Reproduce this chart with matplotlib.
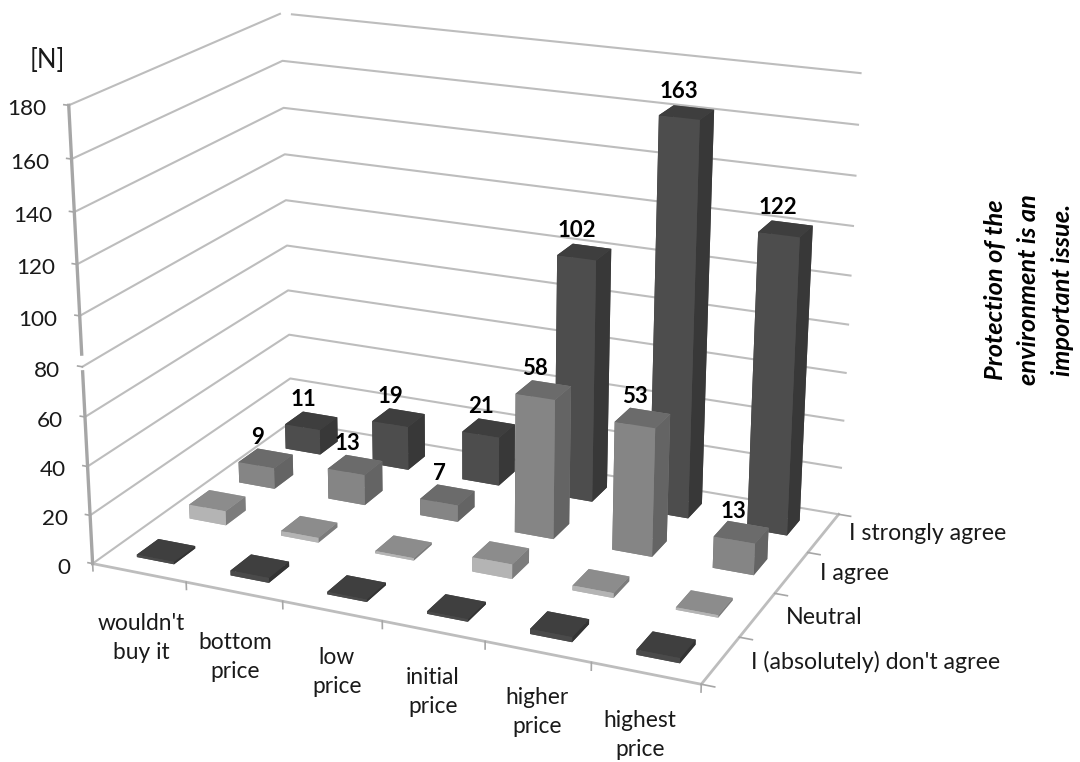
import numpy as np
import matplotlib
matplotlib.use("Agg")
import matplotlib.pyplot as plt
from mpl_toolkits.mplot3d import Axes3D  # noqa

categories = ["wouldn't\nbuy it", "bottom\nprice", "low\nprice", "initial\nprice", "higher\nprice", "highest\nprice"]
series_names = ["I (absolutely) don't agree", "Neutral", "I agree", "I strongly agree"]
dont_agree = [1, 2, 1, 1, 2, 2]
neutral = [6, 2, 1, 6, 2, 1]
agree = [9, 13, 7, 58, 53, 13]
strongly = [11, 19, 21, 102, 163, 122]
y_ticks = list(range(0, 181, 20))
labelled = [None, None, True, True]

W, H = 1080, 762
plt.rcParams['font.family'] = ['Lato', 'DejaVu Sans']
fig = plt.figure(figsize=(W / 100, H / 100), dpi=100)
ax = fig.add_axes([0, -(W - H) / 2 / H, 1, W / H], projection='3d', computed_zorder=False)
ax.set_axis_off()
ax.apply_aspect()

# camera calibration: frame corners (data) <-> picture pixels
calib = [
    ((0, 0, 0), (93, 563)), ((6, 0, 0), (701, 685)), ((6, 4, 0), (838, 513)), ((0, 4, 0), (292, 423)),
    ((0, 0, 180), (70, 105)), ((0, 4, 180), (281, 14)), ((6, 4, 180), (860, 73)),
    ((0, 0, 80), (81, 367)), ((0, 4, 80), (287, 245)), ((6, 4, 80), (849, 325)),
    ((0, 4, 140), (283, 107)), ((6, 4, 140), (856, 176)),
]
S = np.array([6.0, 4.0, 180.0])
rows = []
for d, p in calib:
    X = list(np.array(d) / S) + [1.0]
    u, v = p[0] / 1000, p[1] / 1000
    rows.append(X + [0, 0, 0, 0] + [-u * c for c in X])
    rows.append([0, 0, 0, 0] + X + [-v * c for c in X])
P = np.linalg.svd(np.array(rows))[2][-1].reshape(3, 4)
if P[2, 3] < 0:
    P = -P
# pixel -> 2D axes data
inv = ax.transData.inverted()
o = inv.transform((0, H)); ex = inv.transform((1000, H)); ey = inv.transform((0, H - 1000))
A = np.array([[ex[0] - o[0], ey[0] - o[0], o[0]], [ex[1] - o[1], ey[1] - o[1], o[1]], [0, 0, 1]])
P = A @ P @ np.diag([1 / S[0], 1 / S[1], 1 / S[2], 1.0])
M = np.array([P[0], P[1], [0, 0, 0, -1.0], P[2]])
ax.get_proj = lambda: M


def proj(x, y, z):
    q = P @ np.array([x, y, z, 1.0])
    return q[0] / q[2], q[1] / q[2]


GRID = '#bdbdbd'
AXIS = '#a6a6a6'
n_x, n_y = len(categories), len(series_names)
for v in y_ticks:
    if v == y_ticks[-1]:
        ax.plot([0, 0], [0, n_y - 0.03], [v, v], color=GRID, lw=1.5, zorder=1)
        ax.plot([0.12, n_x], [n_y, n_y], [v, v], color=GRID, lw=1.5, zorder=1)
    else:
        ax.plot([0, 0, n_x], [0, n_y, n_y], [v, v, v], color=GRID, lw=1.5, zorder=1)
    ax.plot([-0.05, 0], [0, 0], [v, v], color=AXIS, lw=1.2, zorder=1)
ax.plot([0, 0], [0, 0], [0, 78], color=AXIS, lw=2.4, zorder=1.5)
ax.plot([0, 0], [0, 0], [85, y_ticks[-1]], color=AXIS, lw=2.4, zorder=1.5)
ax.plot([0, n_x, n_x], [0, 0, n_y], [0, 0, 0], color=GRID, lw=2, zorder=1)
for i in range(n_x + 1):
    ax.plot([i, i], [0, 0], [0, -3], color=AXIS, lw=1.2, zorder=1)
for j in range(n_y + 1):
    ax.plot([n_x, n_x + 0.12], [j, j], [0, 0], color=AXIS, lw=1.2, zorder=1)

rows_data = [dont_agree, neutral, agree, strongly]
styles = [
    ('#4a4a4a', '#3f3f3f', '#333333'),
    ('#b4b4b4', '#8c8c8c', '#7c7c7c'),
    ('#858585', '#6b6b6b', '#646464'),
    ('#4d4d4d', '#3e3e3e', '#383838'),
]
bw = 0.40
z = 10
for j in range(n_y - 1, -1, -1):
    front, top, side = styles[j]
    for i, val in enumerate(rows_data[j]):
        ax.bar3d(i + 0.5 - bw / 2, j + 0.5 - bw / 2, 0, bw, bw, val, shade=False,
                 color=[front, top, front, front, side, side], edgecolor='none', zorder=z)
        z += 1
        if labelled[j]:
            xy = proj(i + 0.5, j + 0.5, val)
            ax.annotate(str(val), xy=xy, xytext=(-8, 21), textcoords='offset pixels', ha='center',
                        va='center', fontsize=16, fontweight='bold', color='black', zorder=100)


def ptext(x, y, s, **kw):
    fig.text(x / W, 1 - y / H, s, ha=kw.pop('ha', 'center'), va='center', color=kw.pop('color', '#1a1a1a'), **kw)


for v in y_ticks:
    xy = proj(0, 0, v)
    ax.annotate(str(v), xy=xy, xytext=(-22, -4), textcoords='offset pixels', ha='right', va='center',
                fontsize=16.2, color='#1a1a1a')
cat_xy = [(141, 638), (235, 657), (337, 672), (433, 692), (537, 712), (640, 735)]
for (x, y), c in zip(cat_xy, categories):
    ptext(x, y, c, fontsize=16.4, linespacing=1.42)
ser_xy = [(876, 662), (824, 617), (854, 574), (928, 533)]
for (x, y), c in zip(ser_xy, series_names):
    ptext(x, y, c, fontsize=16.7)
ptext(47, 61, '[N]', fontsize=18.5)
ptext(1029, 290, 'Protection of the\nenvironment is an\nimportant issue.', fontsize=18.3,
      fontweight='bold', fontstyle='italic', rotation=90, color='black', linespacing=1.55, multialignment='center')

fig.savefig('out.png', dpi=100)
